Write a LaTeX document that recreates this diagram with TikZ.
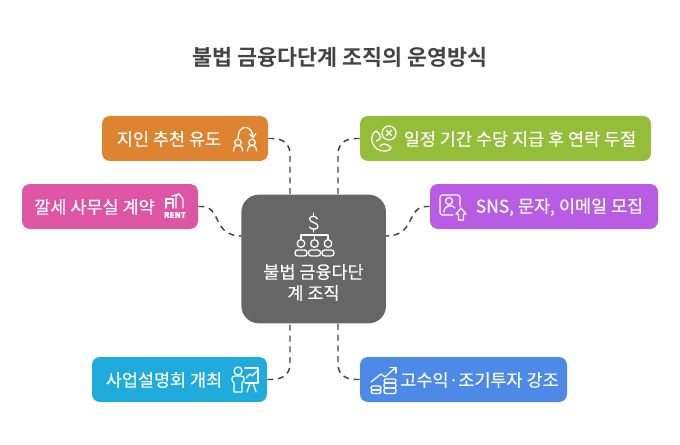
\documentclass[tikz,border=0pt]{standalone}
\usepackage{fontspec}
\setmainfont[FakeBold=0.2]{Noto Sans CJK KR}
\newfontfamily\titlefont{Noto Sans CJK KR Bold}
\usetikzlibrary{arrows.meta}
\definecolor{cOrange}{HTML}{DE8431}
\definecolor{cPink}{HTML}{DF55A6}
\definecolor{cGreen}{HTML}{94BD3A}
\definecolor{cPurple}{HTML}{B85CE3}
\definecolor{cBlue}{HTML}{1FACDC}
\definecolor{cCorn}{HTML}{4D89E6}
\definecolor{cGrey}{HTML}{666666}
\definecolor{cLine}{HTML}{444444}
\tikzset{
  x=0.75pt,y=-0.75pt,
  boxnode/.style={rectangle,rounded corners=6pt,draw=none,inner sep=0pt,minimum height=33.75pt},
  lab/.style={text=white,font=\fontsize{13.1}{16}\selectfont,inner sep=0pt,anchor=center},
  conn/.style={draw=cLine,line width=1.1pt,dash pattern=on 4.5pt off 3.6pt},
  ico/.style={draw=white,line width=0.95pt,line cap=round,line join=round},
}
\begin{document}
\begin{tikzpicture}
\useasboundingbox (0,0) rectangle (680,445);
\fill[white] (0,0) rectangle (680,445);
\node[text=cLine,font=\titlefont\fontsize{16.3}{19}\selectfont,inner sep=0pt] (title) at (340,57) {불법 금융다단계 조직의 운영방식};
% centre
\node[rectangle,rounded corners=13pt,fill=cGrey,minimum width=108.4pt,minimum height=96.5pt,inner sep=0pt] (c) at (313.7,259) {};
\coordinate (cnw) at (290,194.5);
\coordinate (cne) at (338,194.5);
\coordinate (cwn) at (241.5,236);
\coordinate (cen) at (386,236);
\coordinate (csw) at (290,323.5);
\coordinate (cse) at (338,323.5);
\node[lab] (ct1) at (313.5,272) {불법 금융다단};
\node[lab] (ct2) at (313.5,293) {계 조직};
% boxes
\node[boxnode,fill=cOrange,minimum width=124.5pt] (a) at (185,138.5) {};
\node[boxnode,fill=cPink,minimum width=132pt] (b) at (110,206.5) {};
\node[boxnode,fill=cGreen,minimum width=218.25pt] (d) at (505.5,138.5) {};
\node[boxnode,fill=cPurple,minimum width=171pt] (e) at (544,206.5) {};
\node[boxnode,fill=cBlue,minimum width=131.25pt] (f) at (179.5,379.5) {};
\node[boxnode,fill=cCorn,minimum width=155.25pt] (g) at (463.5,379.5) {};
\node[lab] (at) at (169,139) {지인 추천 유도};
\node[lab] (bt) at (94.5,207) {깔세 사무실 계약};
\node[lab] (dt) at (520,139) {일정 기간 수당 지급 후 연락 두절};
\node[lab] (et) at (559.5,207) {SNS, 문자, 이메일 모집};
\node[lab] (ft) at (164,380) {사업설명회 개최};
\node[lab] (gt) at (479.5,380) {고수익·조기투자 강조};
% connectors
\draw[conn] (a.east) -- ++(4,0) .. controls (283,138.5) and (290,144) .. (290,154) -- (cnw);
\draw[conn] (d.west) -- ++(-4,0) .. controls (345,138.5) and (338,144) .. (338,154) -- (cne);
\draw[conn] (b.east) -- ++(3,0) .. controls (222,206.5) and (212,236) .. (cwn);
\draw[conn] (e.west) -- ++(-3,0) .. controls (406,206.5) and (416,236) .. (cen);
\draw[conn] (f.east) -- ++(4,0) .. controls (283,379.5) and (290,374) .. (290,364) -- (csw);
\draw[conn] (g.west) -- ++(-4,0) .. controls (345,379.5) and (338,374) .. (338,364) -- (cse);
\begin{scope}[ico]
% icon: referral
\draw (238,138) .. controls (238,124) and (252,124) .. (253,137);
\draw (249.5,134) -- (253,137.5) -- (256,133.5);
\draw (238,142.5) circle (3.3);
\draw (252,142.5) circle (3.3);
\draw (233.5,151) .. controls (233.5,143) and (242.5,143) .. (242.5,151);
\draw (247.5,151) .. controls (247.5,143) and (256.5,143) .. (256.5,151);
% icon: rent
\draw (166,208) -- (166,199) -- (173,199);
\draw (166,203) -- (171,203);
\draw (173,199) -- (173,208);
\draw (176,208) -- (176,196) -- (179,194) -- (183,199) -- (183,208);
\draw (172,196) -- (179,194);
% icon: phone + x
\draw (389,133) circle (7);
\draw (386.5,130.5) -- (391.5,135.5);
\draw (391.5,130.5) -- (386.5,135.5);
\draw (376,131) .. controls (370,135) and (370,143) .. (377,149) .. controls (382,152) and (389,152) .. (391,148) .. controls (387,143) and (383,143) .. (380,146);
\draw (376,131) .. controls (379,133) and (381,136) .. (380,139) -- (376.5,141);
% icon: profile upload
\draw[rounded corners=2pt] (460,206) -- (460,195) -- (440,195) -- (440,215) -- (453,215);
\draw (449,201) circle (3.5);
\draw (444,212) .. controls (444,205) and (452,204) .. (455,208);
\draw (461,208) -- (466,214) -- (463.5,214) -- (463.5,220) -- (458.5,220) -- (458.5,214) -- (456,214) -- cycle;
% icon: presenter
\draw (238,371) circle (4);
\draw (234,392) -- (242,392) -- (242,383) .. controls (245,381) and (245,376) .. (241,376) -- (235,376) .. controls (231,376) and (231,381) .. (234,383) -- cycle;
\draw (245,368) -- (258,368) -- (258,383) -- (245,383);
\draw (246,378) -- (250,374) -- (252,376) -- (257,371);
\draw (250,383) -- (247,392);
\draw (253,383) -- (256,392);
% icon: growth coins
\draw (371,382) -- (381,374) -- (385,377) -- (395,368);
\draw (390,367.5) -- (396,367.5) -- (396,373);
\draw[rounded corners=1.5pt] (371,386) rectangle (381,390);
\draw[rounded corners=1.5pt] (371,390) rectangle (381,393.5);
\draw[rounded corners=1.5pt] (384,379) rectangle (396,383);
\draw[rounded corners=1.5pt] (384,383) rectangle (396,388);
\draw[rounded corners=1.5pt] (384,388) rectangle (396,393.5);
% icon: centre
\draw (317.5,219) .. controls (316,215.5) and (310,215.5) .. (309.5,219) .. controls (309.5,223) and (318,222) .. (318,226.5) .. controls (318,230) and (311,230) .. (309.5,227);
\draw (313.7,213) -- (313.7,216);
\draw (313.7,229) -- (313.7,232);
\draw (301,239) -- (301,235) -- (328,235) -- (328,239);
\draw (314.5,235) -- (314.5,239);
\foreach \k in {301,314.5,328}{
  \draw (\k,243.5) circle (3.8);
  \draw[rounded corners=2pt] (\k-6,256) -- (\k-6,250) -- (\k+6,250) -- (\k+6,256) -- cycle;
}
\end{scope}
\node[text=white,font=\bfseries\fontsize{6}{6}\selectfont,inner sep=0pt] (rent) at (175,215) {RENT};
\end{tikzpicture}
\end{document}
